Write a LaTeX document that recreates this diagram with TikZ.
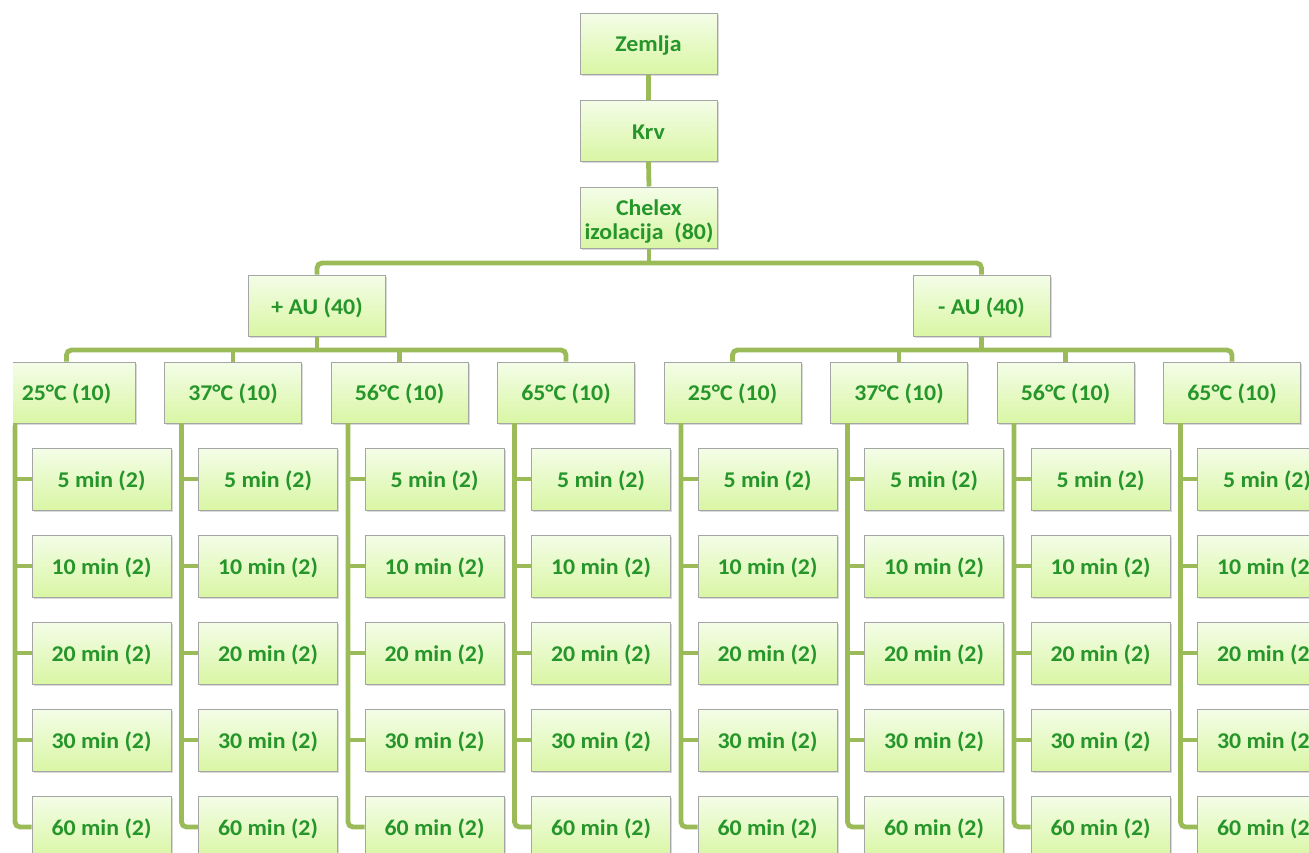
\documentclass[tikz,border=0pt]{standalone}
\usepackage{fontspec}
\setmainfont{Carlito}[FakeStretch=1.06]
\usetikzlibrary{shadows}
\definecolor{lgreen}{HTML}{9BBB59}
\definecolor{bordergray}{HTML}{A5A5A5}
\definecolor{boxtop}{HTML}{F4FDE8}
\definecolor{boxbot}{HTML}{D9F6A4}
\definecolor{txtgreen}{HTML}{26962A}
\newcommand{\shiftdown}[2]{\raisebox{-#1}[\height][\depth]{#2}}
\begin{document}
\begin{tikzpicture}[x=1pt,y=-1pt,
  bx/.style={draw=bordergray, line width=1pt, top color=boxtop, bottom color=boxbot,
    minimum width=137pt, minimum height=61pt, inner sep=0pt, text=txtgreen,
    font=\fontsize{22.5}{24}\selectfont\bfseries, align=center,
    drop shadow={shadow xshift=1.5pt, shadow yshift=-1.5pt, opacity=0.3}},
  sbx/.style={bx, minimum width=139pt, minimum height=62pt},
  conn/.style={draw=lgreen, line width=4.8pt, rounded corners=5pt}]
\useasboundingbox (0,0) rectangle (1309,852);
\clip (0,0) rectangle (1309,852);

\node[bx] (zem) at (648.5,43.5) {\shiftdown{2.5pt}{Zemlja}};
\node[bx] (krv) at (648.5,130.5) {\shiftdown{2pt}{Krv}};
\node[bx] (chx) at (649,217.5) {\shiftdown{4pt}{Chelex}\\\shiftdown{4pt}{izolacija~~(80)}};
\node[bx] (pau) at (317,305.5) {\shiftdown{2pt}{+ AU (40)}};
\node[bx] (mau) at (981.5,305.5) {\shiftdown{2pt}{- AU (40)}};

\foreach \k/\tmp in {1/25,2/37,3/56,4/65,5/25,6/37,7/56,8/65}{
  \pgfmathsetmacro\cx{66.5+166.5*(\k-1)}
  \node[bx] (g\k) at (\cx,392.5) {\shiftdown{1.5pt}{\tmp°C (10)}};
  \coordinate (v\k) at (\cx-51.5,423);
  \foreach \r/\m in {1/5,2/10,3/20,4/30,5/60}{
    \node[sbx] (b\k-\r) at (\cx+35,{479+87*(\r-1)}) {\shiftdown{2pt}{\m~min (2)}};
  }
}

% connectors
\coordinate (jt) at (649,263);
\coordinate (pj) at (317,350);
\coordinate (mj) at (981.5,350);
\draw[conn] (zem.south) -- (krv.north);
\draw[conn] (krv.south) -- (chx.north);
\draw[conn] (chx.south) -- (jt);
\draw[conn] (pau.north) |- (jt) -| (mau.north);
\draw[conn] (pau.south) -- (pj);
\draw[conn] (mau.south) -- (mj);
\draw[conn] (g1.north) |- (pj) -| (g4.north);
\draw[conn] (g2.north) -- (g2.north |- pj);
\draw[conn] (g3.north) -- (g3.north |- pj);
\draw[conn] (g5.north) |- (mj) -| (g8.north);
\draw[conn] (g6.north) -- (g6.north |- mj);
\draw[conn] (g7.north) -- (g7.north |- mj);
\foreach \k in {1,...,8}{
  \draw[conn] (v\k) |- (b\k-5.west);
  \foreach \r in {1,...,4}{
    \draw[conn] (v\k |- b\k-\r.west) -- (b\k-\r.west);
  }
}
% left crop margin of the reference
\fill[white] (0,354) rectangle (13,426);
\end{tikzpicture}
\end{document}
